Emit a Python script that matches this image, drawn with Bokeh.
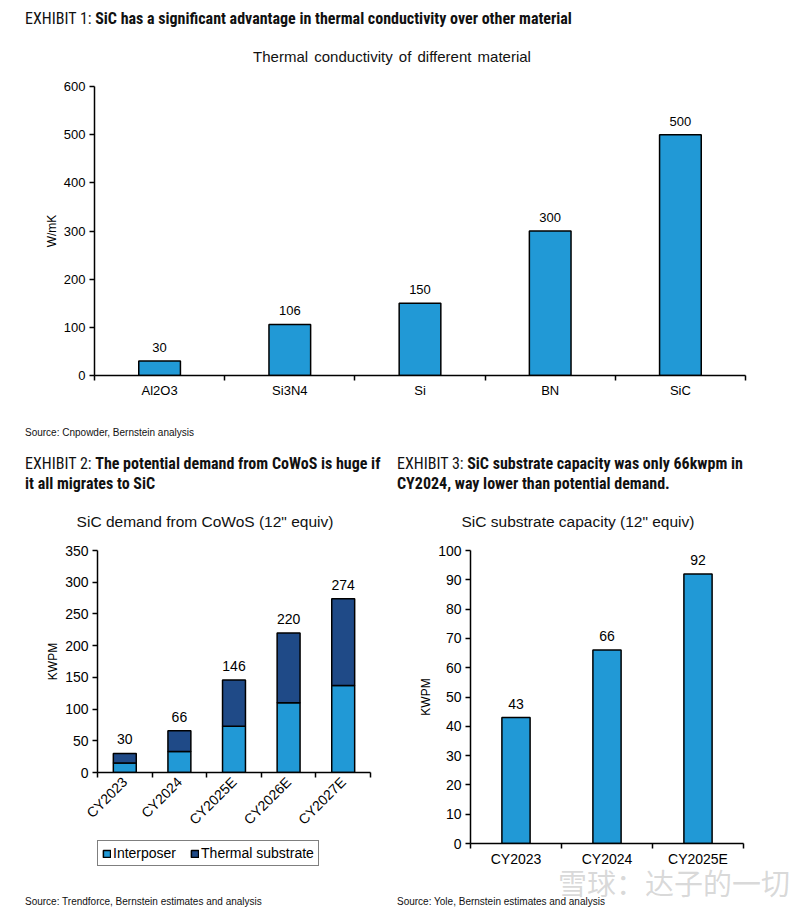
import math
from bokeh.plotting import figure
from bokeh.models import Div, Range1d, FixedTicker, ColumnDataSource, LabelSet, Legend, LegendItem
from bokeh.core.properties import value
from bokeh.layouts import column, row
from bokeh.embed import file_html
from bokeh.resources import INLINE

# ---------------- data ----------------
materials = ["Al2O3", "Si3N4", "Si", "BN", "SiC"]
conductivity = [30, 106, 150, 300, 500]

years2 = ["CY2023", "CY2024", "CY2025E", "CY2026E", "CY2027E"]
interposer = [15, 33, 73, 110, 137]
thermal_sub = [15, 33, 73, 110, 137]
demand_total = [30, 66, 146, 220, 274]
series2 = ["Interposer", "Thermal substrate"]

years3 = ["CY2023", "CY2024", "CY2025E"]
capacity = [43, 66, 92]

LIGHT = "#2199d6"
DARK = "#1f4a87"
FONT = "Liberation Sans"
HFONT = "'Liberation Sans Narrow', 'Roboto Condensed', 'Liberation Sans', sans-serif"


def make_fig(w, h, n, ymax, ystep, names, mb, fs, ylabel, rot=0):
    p = figure(width=w, height=h, x_range=Range1d(0, n), y_range=Range1d(0, ymax),
               output_backend="svg", toolbar_location=None,
               min_border_left=mb[0], min_border_right=mb[1],
               min_border_top=mb[2], min_border_bottom=mb[3])
    p.outline_line_color = None
    p.grid.visible = False
    centers = [i + 0.5 for i in range(n)]
    xa = p.xaxis[0]
    xa.ticker = FixedTicker(ticks=centers, minor_ticks=list(range(n + 1)))
    xa.major_label_overrides = {c: nm for c, nm in zip(centers, names)}
    xa.major_tick_out = 0
    xa.major_tick_in = 0
    xa.minor_tick_out = 5
    xa.minor_tick_in = 0
    xa.minor_tick_line_width = 1.5
    xa.minor_tick_line_color = "black"
    xa.axis_line_width = 1.5
    xa.axis_line_color = "black"
    xa.major_label_text_font = FONT
    xa.major_label_text_font_size = fs
    xa.major_label_text_color = "black"
    xa.major_label_standoff = 2
    if rot:
        xa.major_label_orientation = rot
    ya = p.yaxis[0]
    ya.ticker = FixedTicker(ticks=list(range(0, ymax + 1, ystep)), minor_ticks=[])
    ya.major_tick_out = 5
    ya.major_tick_in = 0
    ya.major_tick_line_width = 1.5
    ya.major_tick_line_color = "black"
    ya.axis_line_width = 1.5
    ya.axis_line_color = "black"
    ya.major_label_text_font = FONT
    ya.major_label_text_font_size = fs
    ya.major_label_text_color = "black"
    ya.major_label_standoff = 4
    ya.axis_label = ylabel
    ya.axis_label_text_font = FONT
    ya.axis_label_text_font_size = "12px"
    ya.axis_label_text_font_style = "normal"
    ya.axis_label_text_color = "black"
    ya.axis_label_standoff = 2
    return p


def labels(p, src, fs="13px"):
    p.add_layout(LabelSet(x="x", y="v", text="lbl", source=src, y_offset=9,
                          text_align="center", text_baseline="bottom",
                          text_font=value(FONT), text_font_size=fs, text_color="black"))


def div(html, w, h):
    return Div(text=html, width=w, height=h, margin=0)


# ---------------- chart 1 ----------------
p1 = make_fig(784, 335, len(materials), 600, 100, materials, (86, 47, 16, 30), "13px", "W/mK")
src1 = ColumnDataSource(dict(x=[i + 0.5 for i in range(len(materials))], v=conductivity,
                             lbl=[str(v) for v in conductivity]))
p1.vbar(x="x", top="v", width=0.32, source=src1, fill_color=LIGHT, line_color="black", line_width=1.5)
labels(p1, src1)

# ---------------- chart 2 ----------------
p2 = make_fig(384, 296, len(years2), 350, 50, years2, (89, 22, 10, 63), "14px", "KWPM", rot=math.pi / 4)
src2 = ColumnDataSource(dict(x=[i + 0.5 for i in range(len(years2))], interposer=interposer,
                             thermal=thermal_sub, v=[a + b for a, b in zip(interposer, thermal_sub)],
                             lbl=[str(v) for v in demand_total]))
rs = p2.vbar_stack(["interposer", "thermal"], x="x", width=0.42, source=src2,
                   fill_color=[LIGHT, DARK], line_color="black", line_width=1.5)
labels(p2, src2, "14px")

# legend of chart 2: own small canvas under the chart; the stacked series are
# registered there as hidden renderers so that only their legend swatches show
pl = figure(width=384, height=34, x_range=Range1d(0, len(years2)), y_range=Range1d(0, 350),
            output_backend="svg", toolbar_location=None,
            x_axis_location=None, y_axis_location=None,
            min_border_left=0, min_border_right=0, min_border_top=0, min_border_bottom=0)
pl.outline_line_color = None
pl.grid.visible = False
proxies = pl.vbar_stack(["interposer", "thermal"], x="x", width=0.42, source=src2,
                        fill_color=[LIGHT, DARK], line_color="black", line_width=1.5)
for r in proxies:
    r.visible = False
leg = Legend(items=[LegendItem(label=s, renderers=[r]) for s, r in zip(series2, proxies)],
             orientation="horizontal", location=(0, 4),
             border_line_color="black", border_line_width=1.5,
             label_text_font=FONT, label_text_font_size="14px", label_text_color="black",
             glyph_width=9, glyph_height=9, padding=4, spacing=14, margin=0, label_standoff=2,
             label_height=14, background_fill_alpha=1, inactive_fill_alpha=0)
pl.add_layout(leg, "center")

# ---------------- chart 3 ----------------
p3 = make_fig(400, 350, len(years3), 100, 10, years3, (78, 49, 10, 47), "14px", "KWPM")
src3 = ColumnDataSource(dict(x=[i + 0.5 for i in range(len(years3))], v=capacity,
                             lbl=[str(v) for v in capacity]))
p3.vbar(x="x", top="v", width=0.31, source=src3, fill_color=LIGHT, line_color="black", line_width=1.5)
labels(p3, src3, "14px")

# ---------------- texts ----------------
H = f"font-family:{HFONT};font-size:16px;color:#111;line-height:20px;"
T = f"font-family:'{FONT}';color:#111;line-height:20px;text-align:center;"
S = f"font-family:'{FONT}';font-size:10px;color:#111;line-height:14px;"

d_h1 = div(f"<div style=\"{H}padding-left:17px;padding-top:1px;white-space:nowrap\">EXHIBIT 1: <b>SiC has a significant advantage in thermal conductivity over other material</b></div>", 784, 27)
d_t1 = div(f"<div style=\"{T}width:768px;padding-top:12px;font-size:15px;word-spacing:2px\">Thermal conductivity of different material</div>", 784, 35)
d_s1 = div(f"<div style=\"{S}padding-left:17px;padding-top:21px\">Source: Cnpowder, Bernstein analysis</div>", 784, 40)

d_h2 = div(f"<div style=\"{H}padding-left:17px;padding-top:9px;white-space:nowrap\">EXHIBIT 2: <b>The potential demand from CoWoS is huge if<br>it all migrates to SiC</b></div>", 384, 60)
d_t2 = div(f"<div style=\"{T}width:394px;padding-top:7px;font-size:15.5px\">SiC demand from CoWoS (12\" equiv)</div>", 384, 35)
d_gap = div("", 384, 20)
d_s2 = div(f"<div style=\"{S}padding-left:17px;padding-top:5px\">Source: Trendforce, Bernstein estimates and analysis</div>", 384, 17)

d_h3 = div(f"<div style=\"{H}padding-left:5px;padding-top:9px;white-space:nowrap\">EXHIBIT 3: <b>SiC substrate capacity was only 66kwpm in<br>CY2024, way lower than potential demand.</b></div>", 400, 60)
d_t3 = div(f"<div style=\"{T}width:372px;padding-top:7px;font-size:15.5px\">SiC substrate capacity (12\" equiv)</div>", 400, 35)
d_s3 = div(f"<div style=\"position:relative;{S}padding-left:5px;padding-top:5px\">Source: Yole, Bernstein estimates and analysis"
           f"<span style=\"position:absolute;left:166px;top:-23px;font-family:'Noto Sans CJK SC';font-size:29px;color:rgba(170,170,170,0.45);white-space:nowrap;line-height:30px\">雪球：达子的一切</span></div>", 400, 17)

left = column(d_h2, d_t2, p2, pl, d_gap, d_s2, spacing=0)
right = column(d_h3, d_t3, p3, d_s3, spacing=0)
layout = column(d_h1, d_t1, p1, d_s1, row(left, right, spacing=0), spacing=0, margin=(8, 0, 0, 8))

open("out.html", "w").write(file_html(layout, INLINE))
